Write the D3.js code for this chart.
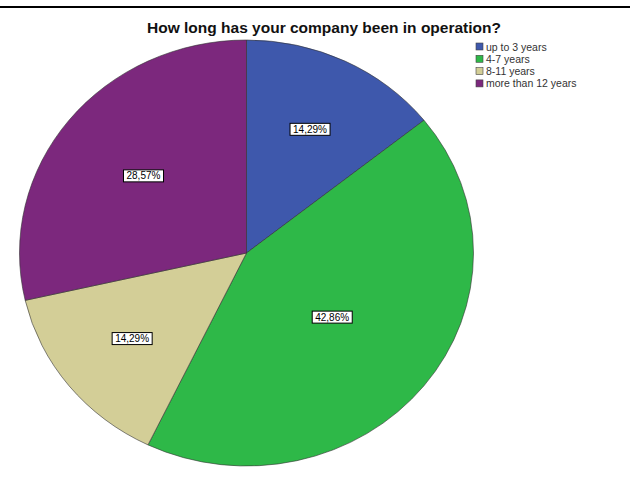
<!DOCTYPE html>
<html>
<head>
<meta charset="utf-8">
<script src="https://cdn.jsdelivr.net/npm/d3@7"></script>
<style>
  html, body { margin: 0; padding: 0; background: #fff; }
  svg { display: block; font-family: "Liberation Sans", Arial, sans-serif; }
</style>
</head>
<body>
<svg id="chart" width="630" height="487"></svg>
<script>
// Survey answers: company age groups and their share of respondents (%)
const categories = ["up to 3 years", "4-7 years", "8-11 years", "more than 12 years"];
const percents = [14.29, 42.86, 14.29, 28.57];
const colors = ["#3e58ac", "#2eb848", "#d3ce97", "#7c287d"];
const title = "How long has your company been in operation?";

const svg = d3.select("#chart");
const W = 630;

// rule across the top of the output frame
svg.append("line")
  .attr("x1", 0).attr("x2", W)
  .attr("y1", 7).attr("y2", 7)
  .attr("stroke", "#000").attr("stroke-width", 2);

svg.append("text")
  .attr("x", 324).attr("y", 33)
  .attr("text-anchor", "middle")
  .attr("font-size", 15.5).attr("font-weight", "bold")
  .attr("fill", "#111")
  .text(title);

// pie is drawn slightly wider than tall
const cx = 246.5, cy = 253, rx = 227, ry = 213;

const pie = d3.pie().sort(null).value(d => d.value);
const arcs = pie(categories.map((c, i) => ({ name: c, value: percents[i], color: colors[i] })));
const arc = d3.arc().innerRadius(0).outerRadius(ry);

const g = svg.append("g")
  .attr("transform", `translate(${cx},${cy}) scale(${rx / ry},1)`);

g.selectAll("path")
  .data(arcs)
  .join("path")
  .attr("d", arc)
  .attr("fill", d => d.data.color)
  .attr("stroke", "#333")
  .attr("stroke-width", 0.6)
  .attr("vector-effect", "non-scaling-stroke");

// value labels sit at each sector's centroid
const fmt = v => d3.format(".2f")(v).replace(".", ",") + "%";
const labels = svg.append("g");
arcs.forEach(d => {
  const a = d.endAngle - d.startAngle;
  const mid = (d.startAngle + d.endAngle) / 2;
  const k = 4 * Math.sin(a / 2) / (3 * a);
  const x = cx + rx * k * Math.sin(mid);
  const y = cy - ry * k * Math.cos(mid);
  const lg = labels.append("g").attr("transform", `translate(${x},${y})`);
  const t = lg.append("text")
    .attr("text-anchor", "middle")
    .attr("dy", "0.35em")
    .attr("font-size", 10)
    .attr("fill", "#000")
    .text(fmt(d.data.value));
  const bb = t.node().getBBox();
  lg.insert("rect", "text")
    .attr("x", bb.x - 3).attr("y", -6)
    .attr("width", bb.width + 6).attr("height", 12)
    .attr("fill", "#fff")
    .attr("stroke", "#000")
    .attr("stroke-width", 1);
});

// legend
const legend = svg.append("g").attr("transform", "translate(476,43)");
const rows = legend.selectAll("g")
  .data(categories)
  .join("g")
  .attr("transform", (d, i) => `translate(0,${i * 12.3})`);
rows.append("rect")
  .attr("width", 7).attr("height", 7)
  .attr("fill", (d, i) => colors[i])
  .attr("stroke", "#444").attr("stroke-width", 0.6);
rows.append("text")
  .attr("x", 10).attr("y", 7.5)
  .attr("font-size", 10.5)
  .attr("fill", "#333")
  .text(d => d);
</script>
</body>
</html>
